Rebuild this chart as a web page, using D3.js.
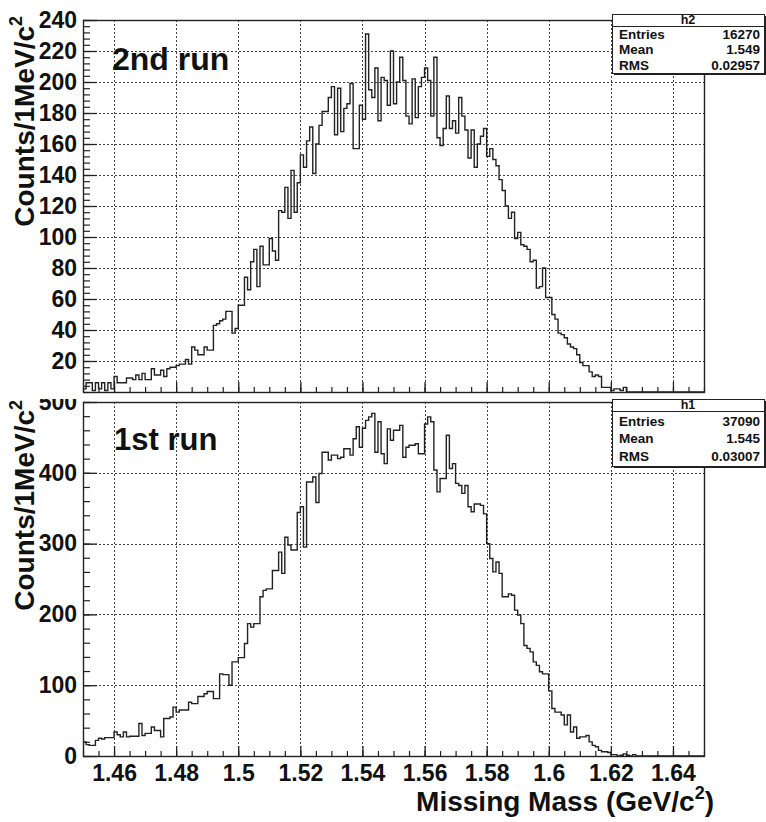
<!DOCTYPE html>
<html>
<head>
<meta charset="utf-8">
<script src="https://cdn.jsdelivr.net/npm/d3@7"></script>
<style>
  html, body { margin: 0; padding: 0; background: #fff; }
  svg { display: block; }
  text { font-family: "Liberation Sans", Arial, Helvetica, sans-serif; font-weight: bold; fill: #111; }
</style>
</head>
<body>
<svg id="chart" width="766" height="822"></svg>
<script>
// Missing-mass spectra, 1 MeV bins from 1.450 GeV/c^2
const binStart = 1.45;
const binWidth = 0.001;

// 2nd run (h2) counts per bin
const run2Counts = [
  2, 6, 6, 1, 6, 2, 6, 1, 6, 2,
  10, 6, 6, 6, 9, 9, 8, 11, 8, 12,
  8, 8, 15, 11, 11, 14, 10, 15, 16, 16,
  17, 18, 18, 21, 18, 29, 27, 24, 24, 29,
  27, 27, 43, 44, 46, 47, 52, 52, 38, 41,
  56, 56, 74, 66, 84, 92, 68, 94, 82, 82,
  99, 91, 85, 117, 116, 132, 112, 143, 116, 135,
  153, 145, 162, 171, 141, 160, 172, 181, 181, 190,
  197, 166, 196, 168, 183, 186, 199, 157, 157, 185,
  176, 231, 195, 190, 209, 175, 203, 201, 185, 220,
  186, 200, 216, 201, 178, 173, 202, 177, 197, 203,
  209, 201, 178, 216, 164, 159, 170, 191, 170, 175,
  167, 190, 178, 169, 151, 169, 145, 160, 165, 170,
  152, 157, 150, 146, 137, 130, 120, 112, 116, 99,
  103, 95, 94, 92, 84, 85, 67, 68, 80, 61,
  61, 50, 47, 38, 37, 35, 31, 29, 28, 24,
  19, 17, 17, 13, 10, 11, 10, 3, 3, 3,
  1, 2, 2, 1, 3, 0, 0, 0, 0, 0,
  0, 0, 0, 0, 0, 0, 0, 0, 0, 0,
  0, 0, 0, 0, 0, 0, 0, 0, 0, 0
];

// 1st run (h1) counts per bin
const run1Counts = [
  20, 16, 15, 15, 22, 25, 24, 26, 26, 26,
  34, 30, 27, 34, 27, 28, 28, 28, 46, 29,
  32, 32, 41, 36, 36, 27, 53, 53, 55, 69,
  62, 65, 65, 65, 76, 74, 74, 84, 84, 88,
  91, 91, 81, 81, 116, 115, 115, 100, 133, 133,
  139, 139, 159, 187, 182, 187, 187, 225, 234, 236,
  236, 262, 262, 288, 258, 309, 298, 291, 291, 344,
  352, 295, 387, 387, 394, 358, 399, 429, 429, 418,
  425, 425, 420, 422, 434, 434, 425, 448, 465, 436,
  463, 474, 479, 484, 429, 472, 427, 413, 462, 446,
  460, 460, 467, 422, 436, 439, 439, 441, 427, 427,
  469, 479, 472, 404, 373, 392, 392, 453, 406, 413,
  385, 382, 371, 382, 352, 345, 356, 356, 354, 342,
  300, 279, 260, 274, 258, 225, 225, 229, 227, 206,
  199, 187, 156, 152, 147, 133, 128, 119, 116, 116,
  92, 67, 62, 62, 58, 44, 58, 34, 41, 25,
  27, 27, 29, 20, 15, 13, 8, 6, 6, 5,
  2, 2, 0, 1, 3, 1, 0, 2, 0, 0,
  0, 0, 0, 0, 0, 0, 0, 0, 0, 0,
  0, 0, 0, 0, 0, 0, 0, 0, 0, 0
];

// Axis tick values
const massTicks = [1.46, 1.48, 1.5, 1.52, 1.54, 1.56, 1.58, 1.6, 1.62, 1.64];
const run2Ticks = [20, 40, 60, 80, 100, 120, 140, 160, 180, 200, 220, 240];
const run1Ticks = [0, 100, 200, 300, 400, 500];

// Statistics boxes
const run2Stats = { name: "h2", rows: [["Entries", "16270"], ["Mean", "1.549"], ["RMS", "0.02957"]] };
const run1Stats = { name: "h1", rows: [["Entries", "37090"], ["Mean", "1.545"], ["RMS", "0.03007"]] };

const svg = d3.select("#chart");
const frameL = 83, frameR = 704;
const x = d3.scaleLinear().domain([1.45, 1.65]).range([frameL, frameR]);

function minorValues(domain, step) {
  const out = [];
  const n = Math.round((domain[1] - domain[0]) / step);
  for (let k = 0; k <= n; k++) out.push(+(domain[0] + k * step).toFixed(6));
  return out;
}

function drawPanel(opt) {
  const g = svg.append("g");
  const y = d3.scaleLinear().domain([0, opt.yMax]).range([opt.bottom, opt.top]);
  const h = opt.bottom - opt.top;
  const w = frameR - frameL;

  if (opt.background) {
    g.append("rect").attr("x", 0).attr("y", opt.bgTop).attr("width", 766)
      .attr("height", opt.bgBottom - opt.bgTop).attr("fill", "#fff");
  }

  // dotted grid at the major ticks
  const grid = g.append("g").attr("stroke", "#444").attr("stroke-width", 1)
    .attr("stroke-dasharray", "2,2");
  grid.selectAll("line.v").data(massTicks).join("line")
    .attr("x1", d => Math.round(x(d)) + 0.5).attr("x2", d => Math.round(x(d)) + 0.5)
    .attr("y1", opt.top).attr("y2", opt.bottom);
  grid.selectAll("line.h").data(opt.yTicks.filter(d => d > 0 && d < opt.yMax)).join("line")
    .attr("y1", d => Math.round(y(d)) + 0.5).attr("y2", d => Math.round(y(d)) + 0.5)
    .attr("x1", frameL).attr("x2", frameR);

  // histogram outline
  const clipId = "clip" + opt.name;
  svg.append("clipPath").attr("id", clipId).append("rect")
    .attr("x", frameL).attr("y", opt.top).attr("width", w).attr("height", h);
  const pts = [];
  opt.counts.forEach((c, i) => {
    const e0 = binStart + i * binWidth;
    pts.push([e0, c], [e0 + binWidth, c]);
  });
  const line = d3.line().x(d => x(d[0])).y(d => y(d[1]));
  g.append("path").attr("d", line(pts)).attr("fill", "none")
    .attr("stroke", "#222").attr("stroke-width", 1.4)
    .attr("clip-path", `url(#${clipId})`);

  // y axis: major ticks with labels, minor ticks
  const yAxis = d3.axisLeft(y).tickValues(opt.yTicks).tickSizeInner(-14).tickSizeOuter(0)
    .tickPadding(5).tickFormat(d3.format("d"));
  const ya = g.append("g").attr("transform", `translate(${frameL},0)`).call(yAxis);
  ya.select(".domain").remove();
  ya.selectAll("text").attr("font-size", 23).attr("fill", "#111")
    .attr("font-family", "'Liberation Sans', Arial, sans-serif").attr("font-weight", "bold")
    .attr("dx", "-1");
  ya.selectAll("line").attr("stroke", "#222").attr("stroke-width", 1.3);

  const yMinor = d3.axisLeft(y).tickValues(minorValues([0, opt.yMax], opt.yMinor))
    .tickSizeInner(-7).tickSizeOuter(0).tickFormat("");
  const ym = g.append("g").attr("transform", `translate(${frameL},0)`).call(yMinor);
  ym.select(".domain").remove();
  ym.selectAll("line").attr("stroke", "#222").attr("stroke-width", 1.2);

  // x axis ticks pointing up into the frame
  const xAxis = d3.axisBottom(x).tickValues(massTicks).tickSizeInner(-10).tickSizeOuter(0)
    .tickPadding(8).tickFormat(opt.xLabels ? d => d3.format("")(+d.toFixed(2)) : "");
  const xa = g.append("g").attr("transform", `translate(0,${opt.bottom})`).call(xAxis);
  xa.select(".domain").remove();
  xa.selectAll("line").attr("stroke", "#222").attr("stroke-width", 1.3);
  xa.selectAll("text").attr("font-size", 23).attr("fill", "#111")
    .attr("font-family", "'Liberation Sans', Arial, sans-serif").attr("font-weight", "bold")
    .attr("dy", "0.72em");

  const xMinor = d3.axisBottom(x).tickValues(minorValues([1.45, 1.65], 0.005))
    .tickSizeInner(-5).tickSizeOuter(0).tickFormat("");
  const xm = g.append("g").attr("transform", `translate(0,${opt.bottom})`).call(xMinor);
  xm.select(".domain").remove();
  xm.selectAll("line").attr("stroke", "#222").attr("stroke-width", 1.2);

  // frame
  g.append("rect").attr("x", frameL + 0.5).attr("y", opt.top + 0.5)
    .attr("width", w).attr("height", h)
    .attr("fill", "none").attr("stroke", "#222").attr("stroke-width", 1.4);

  // run label
  g.append("text").attr("x", opt.labelX).attr("y", opt.labelY)
    .attr("font-size", opt.labelSize).text(opt.label);

  // y axis title
  const yt = g.append("text")
    .attr("transform", `translate(34,${opt.titleEnd}) rotate(-90)`)
    .attr("text-anchor", "end").attr("font-size", 28);
  yt.append("tspan").text("Counts/1MeV/c");
  yt.append("tspan").attr("font-size", 18).attr("dy", -12).text("2");

  // statistics box
  const sb = opt.stats, b = opt.statBox;
  const sg = g.append("g");
  sg.append("rect").attr("x", b.x + 2).attr("y", b.y + 2).attr("width", b.w).attr("height", b.h)
    .attr("fill", "#222");
  sg.append("rect").attr("x", b.x + 0.5).attr("y", b.y + 0.5).attr("width", b.w).attr("height", b.h)
    .attr("fill", "#fff").attr("stroke", "#222").attr("stroke-width", 1);
  sg.append("line").attr("x1", b.x).attr("x2", b.x + b.w)
    .attr("y1", b.y + b.head + 0.5).attr("y2", b.y + b.head + 0.5)
    .attr("stroke", "#222").attr("stroke-width", 1);
  sg.append("text").attr("x", b.x + b.w / 2).attr("y", b.y + b.head - 2)
    .attr("text-anchor", "middle").attr("font-size", 12.5).text(sb.name);
  sb.rows.forEach((r, k) => {
    const yy = b.y + b.head + b.row * (k + 1) - 3;
    sg.append("text").attr("x", b.x + 7).attr("y", yy).attr("font-size", 13.5).text(r[0]);
    sg.append("text").attr("x", b.x + b.w - 4).attr("y", yy).attr("text-anchor", "end")
      .attr("font-size", 13.5).text(r[1]);
  });
}

// lower pad: 1st run
drawPanel({
  name: "run1", counts: run1Counts, yMax: 500, yTicks: run1Ticks, yMinor: 20,
  top: 402, bottom: 756, xLabels: true,
  label: "1st run", labelX: 114, labelY: 450, labelSize: 31,
  titleEnd: 400,
  stats: run1Stats, statBox: { x: 612, y: 399, w: 152, h: 67, head: 12, row: 17.5 }
});

// upper pad: 2nd run, drawn over the top of the lower pad
drawPanel({
  name: "run2", counts: run2Counts, yMax: 240, yTicks: run2Ticks, yMinor: 4,
  top: 20, bottom: 392, xLabels: false, background: true, bgTop: 0, bgBottom: 399,
  label: "2nd run", labelX: 112, labelY: 70, labelSize: 32,
  titleEnd: 16,
  stats: run2Stats, statBox: { x: 612, y: 14, w: 152, h: 59, head: 12, row: 15.5 }
});

// x axis title
const xt = svg.append("text").attr("x", 714).attr("y", 811)
  .attr("text-anchor", "end").attr("font-size", 28);
xt.append("tspan").text("Missing Mass (GeV/c");
xt.append("tspan").attr("font-size", 18).attr("dy", -12).text("2");
xt.append("tspan").attr("dy", 12).text(")");
</script>
</body>
</html>
